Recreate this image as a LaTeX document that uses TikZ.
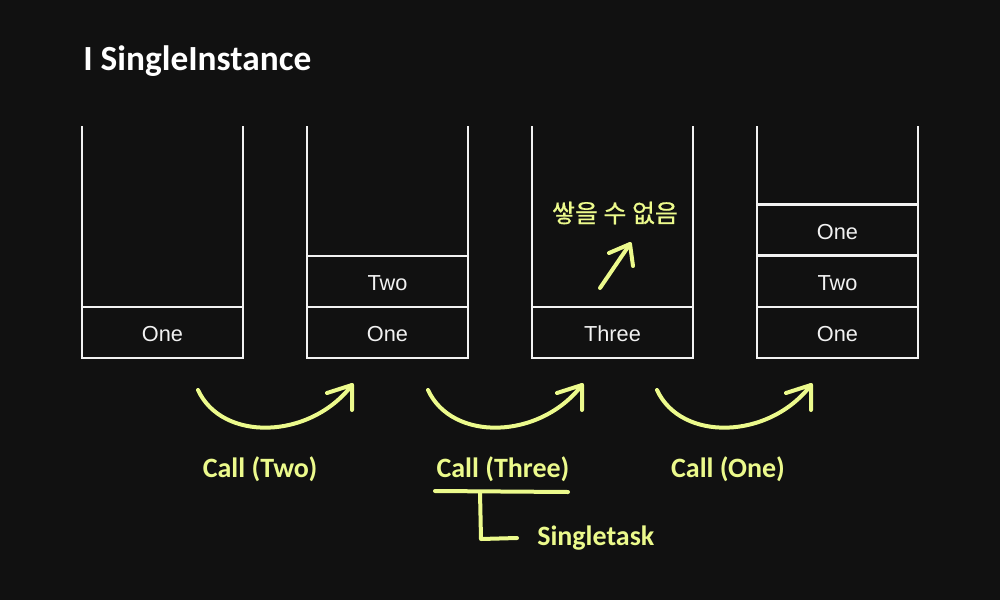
\documentclass[tikz,border=0pt]{standalone}
\usepackage{fontspec}
\setmainfont{Liberation Sans}
\newfontfamily\callfont{Carlito}
\newfontfamily\krfont{Noto Sans CJK KR}[FakeBold=0.6]
\definecolor{bg}{RGB}{17,17,17}
\definecolor{ylw}{RGB}{236,250,140}
\definecolor{wht}{RGB}{242,242,242}
\begin{document}
\begin{tikzpicture}[x=0.75pt,y=-0.75pt,
  wall/.style={draw=wht,line width=2pt,line join=miter},
  cell/.style={draw=wht,line width=2pt,minimum width=120.75pt,minimum height=38.25pt,inner sep=0pt,text=wht,text height=14pt,text depth=0pt,font=\fontsize{16.3}{18}\selectfont},
  yl/.style={draw=ylw,line width=3pt,line cap=round,line join=round},
  calllbl/.style={text=ylw,font=\callfont\bfseries\fontsize{21}{24}\selectfont,inner sep=0pt}]
\fill[bg] (0,0) rectangle (1000,600);
\useasboundingbox (0,0) rectangle (1000,600);
% title
\node[anchor=base west,text=white,inner sep=0pt,font=\callfont\bfseries\fontsize{26.5}{30}\selectfont] (title) at (83,70) {I SingleInstance};
% stacks
\foreach \i/\x in {1/82,2/307,3/532,4/757}{
  \draw[wall] (\x,126) -- (\x,358) -- (\x+161,358) -- (\x+161,126);
}
\node[cell] (s1a) at (162.5,332.5) {One};
\node[cell] (s2a) at (387.5,332.5) {One};
\node[cell] (s2b) at (387.5,281.5) {Two};
\node[cell] (s3a) at (612.5,332.5) {Three};
\node[cell] (s4a) at (837.5,332.5) {One};
\node[cell] (s4b) at (837.5,281.5) {Two};
\node[cell] (s4c) at (837.5,230) {One};
% korean note
\node[text=ylw,inner sep=0pt,font=\krfont\fontsize{18.7}{22}\selectfont] (kr) at (615,213) {쌓을 수 없음};
\coordinate (ks) at (600,288);
\coordinate (ke) at (630,244);
\draw[yl] (ks) -- (ke);
\draw[yl] (609,253) -- (ke) -- (633,266);
% curved arrows
\foreach \dx/\n in {0/1,230/2,459/3}{
  \coordinate (a\n s) at (198+\dx,390);
  \coordinate (a\n e) at (352+\dx,385);
  \draw[yl] (a\n s) .. controls (222+\dx,442) and (310+\dx,440) .. (a\n e);
  \draw[yl] (327+\dx,393) -- (a\n e) -- (352+\dx,410);
}
% labels
\node[calllbl] (c1) at (260,469) {Call (Two)};
\node[calllbl] (c2) at (503,469) {Call (Three)};
\node[calllbl] (c3) at (728,469) {Call (One)};
\node[calllbl,anchor=west] (st) at (537,538) {Singletask};
\coordinate (u1) at (435,491);
\coordinate (u2) at (568,492);
\coordinate (b1) at (480,492);
\coordinate (b2) at (481,539);
\coordinate (b3) at (517,538);
\draw[yl] (u1) -- (u2);
\draw[yl] (b1) -- (b2) -- (b3);
\end{tikzpicture}
\end{document}
